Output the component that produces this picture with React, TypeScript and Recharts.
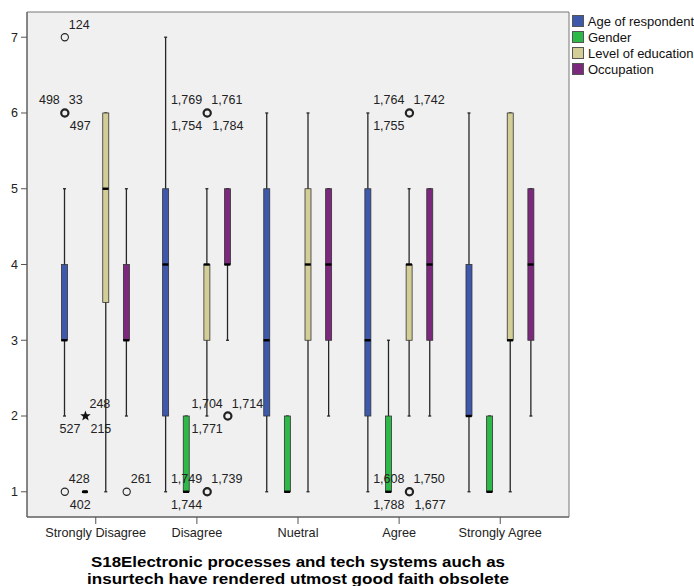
import React from "react";
import { ComposedChart, Bar, Scatter, XAxis, YAxis, CartesianGrid, Legend } from "recharts";

const categories = ["Strongly Disagree", "Disagree", "Nuetral", "Agree", "Strongly Agree"];
const variables = ["Age of respondent", "Gender", "Level of education", "Occupation"];
const colors = ["#3E58AC", "#2EB848", "#D3CE97", "#7C287D"];
const yTicks = [1, 2, 3, 4, 5, 6, 7];
const titleLines = [
  "S18Electronic processes and tech systems auch as",
  "insurtech have rendered utmost good faith obsolete",
];

// [low whisker, Q1, median, Q3, high whisker] for each response group
const ageSummary = [
  [2, 3, 3, 4, 5],
  [1, 2, 4, 5, 7],
  [1, 2, 3, 5, 6],
  [1, 2, 3, 5, 6],
  [1, 2, 2, 4, 6],
];
const genderSummary = [
  [1, 1, 1, 1, 1],
  [1, 1, 1, 2, 2],
  [1, 1, 1, 2, 2],
  [1, 1, 1, 2, 3],
  [1, 1, 1, 2, 2],
];
const educationSummary = [
  [1, 3.5, 5, 6, 6],
  [2, 3, 4, 4, 5],
  [1, 3, 4, 5, 6],
  [2, 3, 4, 4, 5],
  [1, 3, 3, 6, 6],
];
const occupationSummary = [
  [2, 3, 3, 4, 5],
  [3, 4, 4, 5, 5],
  [2, 3, 4, 5, 5],
  [2, 3, 4, 5, 5],
  [2, 3, 4, 5, 5],
];

// outlying cases with the case numbers printed round them
const outliers = [
  { group: 0, variable: 0, value: 7, mark: "o", tr: "124" },
  { group: 0, variable: 0, value: 6, mark: "o", bold: true, tl: "498", tr: "33", br: "497" },
  { group: 0, variable: 0, value: 1, mark: "o", tr: "428", br: "402" },
  { group: 0, variable: 1, value: 2, mark: "*", tr: "248", bl: "527", br: "215" },
  { group: 0, variable: 3, value: 1, mark: "o", tr: "261" },
  { group: 1, variable: 2, value: 6, mark: "o", bold: true, tl: "1,769", tr: "1,761", bl: "1,754", br: "1,784" },
  { group: 1, variable: 2, value: 1, mark: "o", bold: true, tl: "1,749", tr: "1,739", bl: "1,744" },
  { group: 1, variable: 3, value: 2, mark: "o", bold: true, tl: "1,704", tr: "1,714", bl: "1,771" },
  { group: 3, variable: 2, value: 6, mark: "o", bold: true, tl: "1,764", tr: "1,742", bl: "1,755" },
  { group: 3, variable: 2, value: 1, mark: "o", bold: true, tl: "1,608", tr: "1,750", bl: "1,788", br: "1,677" },
];

const FONT = "'Liberation Sans', Arial, sans-serif";
const X_DOMAIN: [number, number] = [0.32, 5.68];
const Y_DOMAIN: [number, number] = [0.667, 7.333];

// boxes sit side by side inside each response group
const xPos = (group: number, variable: number) => group + 1 + (variable - 1.5) * 0.204;

const summaries = [ageSummary, genderSummary, educationSummary, occupationSummary];
const boxes = categories.flatMap((_, g) =>
  summaries.map((s, v) => {
    const [lo, q1, med, q3, hi] = s[g];
    return { x: xPos(g, v), whisker: [lo, hi], box: [q1, q3], median: med, variable: v };
  })
);
const medians = boxes.map((b) => ({ x: b.x, y: b.median }));
const outlierPoints = outliers.map((o) => ({ ...o, x: xPos(o.group, o.variable), y: o.value }));

const WhiskerShape = (props: any) => {
  const { x, y, width, height } = props;
  const cx = x + width / 2;
  const top = Math.min(y, y + height);
  const bottom = Math.max(y, y + height);
  if (bottom - top < 0.5) return <g />;
  return (
    <g stroke="#262626" strokeWidth={1.3}>
      <line x1={cx} x2={cx} y1={top} y2={bottom} />
      <line x1={cx - 1.5} x2={cx + 1.5} y1={top} y2={top} />
      <line x1={cx - 1.5} x2={cx + 1.5} y1={bottom} y2={bottom} />
    </g>
  );
};

const BoxShape = (props: any) => {
  const { x, y, width, height, payload } = props;
  const top = Math.min(y, y + height);
  const h = Math.abs(height);
  if (h < 1) {
    return <rect x={x + 1} y={top - 1.5} width={width - 2} height={3} fill="#111" />;
  }
  return (
    <rect x={x} y={top} width={width} height={h} fill={colors[payload.variable]} stroke="#333" strokeWidth={0.8} />
  );
};

const MedianShape = (props: any) => {
  const { cx, cy } = props;
  return <line x1={cx - 3.5} x2={cx + 2.5} y1={cy} y2={cy} stroke="#000" strokeWidth={2.4} />;
};

const starPath = (cx: number, cy: number, r: number, inner: number) => {
  const pts: string[] = [];
  for (let i = 0; i < 10; i++) {
    const rad = i % 2 === 0 ? r : inner;
    const a = -Math.PI / 2 + (i * Math.PI) / 5;
    pts.push(`${cx + rad * Math.cos(a)},${cy + rad * Math.sin(a)}`);
  }
  return `M${pts.join("L")}Z`;
};

const OutlierShape = (props: any) => {
  const { cx, cy, payload } = props;
  const txt = { fontSize: 12.5, fontFamily: FONT, fill: "#222" };
  return (
    <g>
      {payload.mark === "*" ? (
        <path d={starPath(cx, cy, 5.5, 2.3)} fill="#111" />
      ) : (
        <circle cx={cx} cy={cy} r={3.6} fill="none" stroke="#222" strokeWidth={payload.bold ? 2.2 : 1.1} />
      )}
      {payload.tl && <text x={cx - 5} y={cy - 8.5} textAnchor="end" {...txt}>{payload.tl}</text>}
      {payload.tr && <text x={cx + 4} y={cy - 8.5} textAnchor="start" {...txt}>{payload.tr}</text>}
      {payload.bl && <text x={cx - 5} y={cy + 17} textAnchor="end" {...txt}>{payload.bl}</text>}
      {payload.br && <text x={cx + 5} y={cy + 17} textAnchor="start" {...txt}>{payload.br}</text>}
    </g>
  );
};

const renderLegend = () => (
  <div style={{ fontFamily: FONT, fontSize: 13, color: "#111" }}>
    {variables.map((name, i) => (
      <div key={name} style={{ display: "flex", alignItems: "center", height: 16, whiteSpace: "nowrap" }}>
        <span
          style={{
            display: "inline-block",
            width: 10,
            height: 10,
            background: colors[i],
            border: "1px solid #555",
            marginRight: 4,
          }}
        />
        {name}
      </div>
    ))}
  </div>
);

// two-line axis title, stretched a little to the width of the plot's caption
const renderTitle = (props: any) => {
  const { viewBox } = props;
  const cx = viewBox.x + viewBox.width / 2;
  const common = {
    x: cx,
    textAnchor: "middle" as const,
    fontFamily: FONT,
    fontWeight: "bold",
    fontSize: 15.5,
    fill: "#000",
    lengthAdjust: "spacingAndGlyphs",
  };
  return (
    <g>
      <text {...common} y={viewBox.y + 49.5} textLength={414}>{titleLines[0]}</text>
      <text {...common} y={viewBox.y + 66.5} textLength={422}>{titleLines[1]}</text>
    </g>
  );
};

export default function App() {
  return (
    <div style={{ position: "absolute", left: 0, top: 0, width: 694, height: 586, background: "#fff" }}>
      <ComposedChart
        width={694}
        height={586}
        data={boxes}
        margin={{ top: 12, right: 125, bottom: 0, left: 0 }}
      >
        <CartesianGrid
          fill="#F0F0F0"
          fillOpacity={1}
          stroke="#777"
          horizontalCoordinatesGenerator={({ offset }: any) => [offset.top, offset.top + offset.height]}
          verticalCoordinatesGenerator={({ offset }: any) => [offset.left, offset.left + offset.width]}
        />
        <XAxis
          type="number"
          dataKey="x"
          domain={X_DOMAIN}
          allowDataOverflow
          ticks={[1, 2, 3, 4, 5]}
          interval={0}
          tickFormatter={(v: number) => categories[v - 1]}
          tick={{ fontSize: 12.7, fill: "#222", fontFamily: FONT }}
          tickSize={7}
          tickMargin={4}
          axisLine={{ stroke: "#555" }}
          tickLine={{ stroke: "#555" }}
          height={69}
          label={renderTitle}
        />
        <XAxis xAxisId="w" type="number" dataKey="x" domain={X_DOMAIN} allowDataOverflow hide />
        <XAxis xAxisId="b" type="number" dataKey="x" domain={X_DOMAIN} allowDataOverflow hide />
        <YAxis
          type="number"
          domain={Y_DOMAIN}
          allowDataOverflow
          ticks={yTicks}
          interval={0}
          width={27}
          tick={{ fontSize: 12.5, fill: "#222", fontFamily: FONT }}
          tickSize={6}
          tickMargin={3}
          axisLine={{ stroke: "#555" }}
          tickLine={{ stroke: "#555" }}
        />
        <Legend layout="vertical" align="center" verticalAlign="middle" wrapperStyle={{ left: 572, top: 13, width: 122 }} content={renderLegend} />
        <Bar xAxisId="w" dataKey="whisker" barSize={6} shape={WhiskerShape} isAnimationActive={false} />
        <Bar xAxisId="b" dataKey="box" barSize={6} shape={BoxShape} isAnimationActive={false} />
        <Scatter data={medians} dataKey="y" shape={MedianShape} isAnimationActive={false} />
        <Scatter data={outlierPoints} dataKey="y" shape={OutlierShape} isAnimationActive={false} />
      </ComposedChart>
    </div>
  );
}
